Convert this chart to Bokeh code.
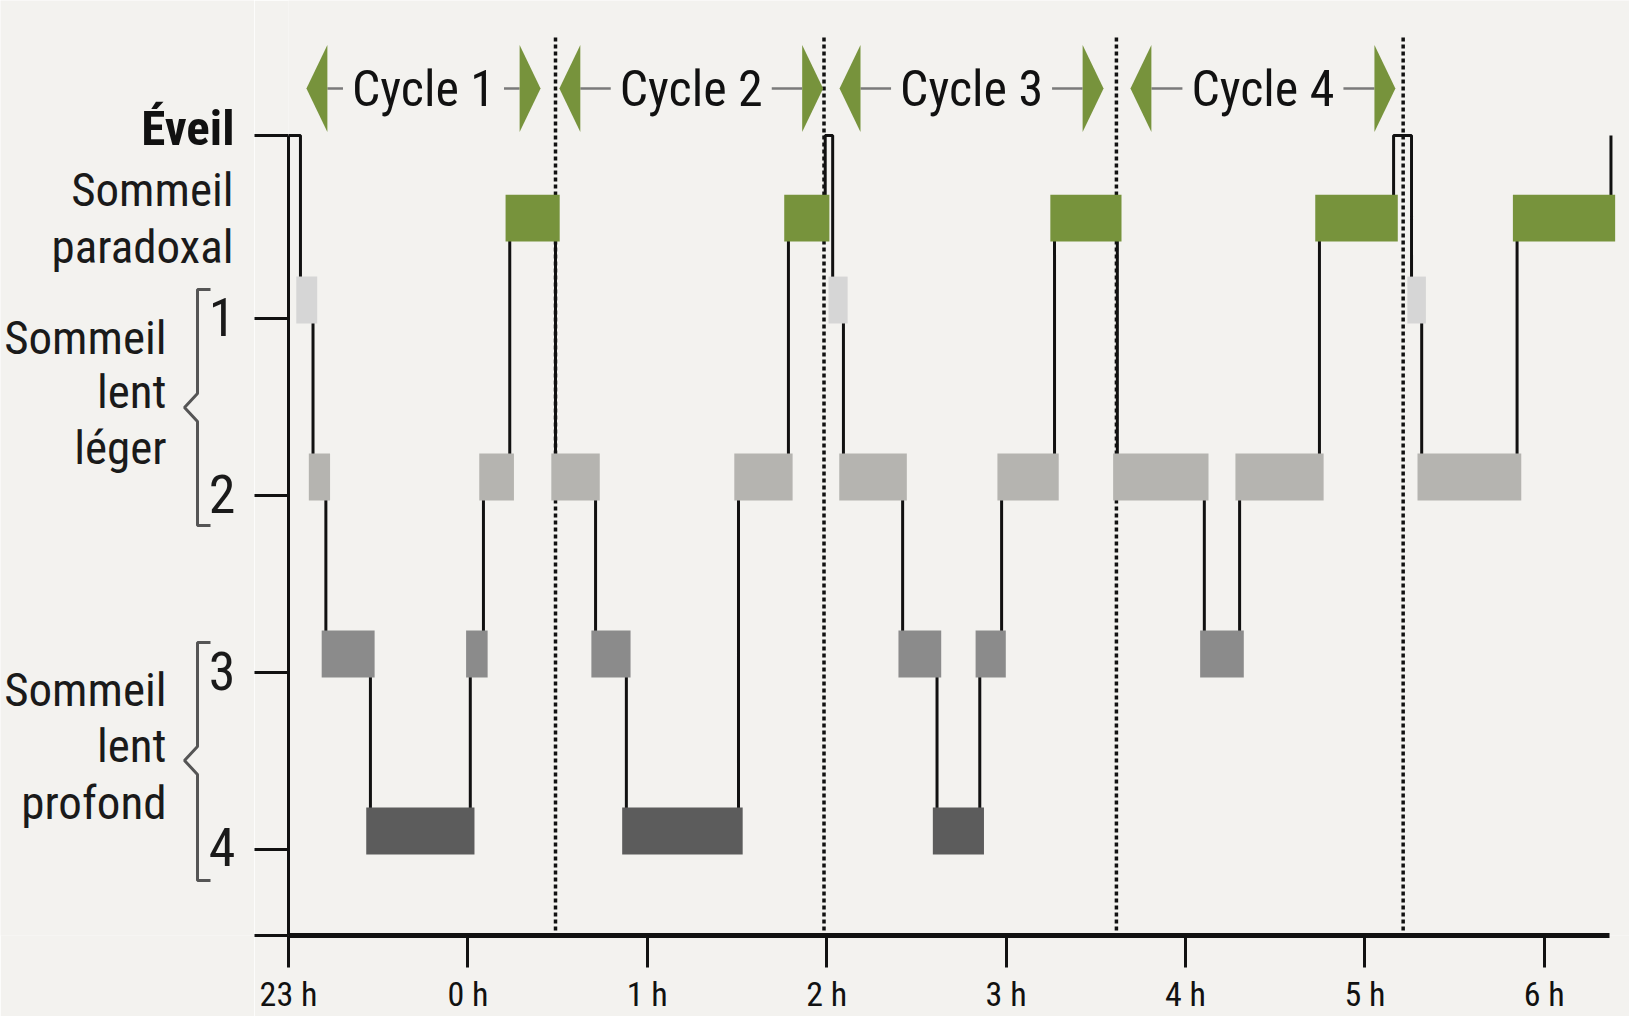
from bokeh.plotting import figure
from bokeh.layouts import row
from bokeh.models import Range1d, FixedTicker, Label
from bokeh.embed import file_html
from bokeh.resources import INLINE
from bokeh.core.properties import value

# ---------------- data ----------------
# hypnogram: stage entered at each time (minutes after 23 h)
stages = ["Éveil", "1", "2", "3", "4", "3", "2", "P", "2", "3", "4", "2", "P",
          "Éveil", "1", "2", "3", "4", "3", "2", "P", "2", "3", "2", "P",
          "Éveil", "1", "2", "P"]
starts = [0.0, 4.0, 8.2, 12.5, 27.4, 60.8, 65.2, 74.0, 89.3, 102.7, 113.0, 150.5, 167.2,
          179.5, 182.0, 185.6, 205.4, 216.9, 231.2, 238.5, 256.2, 277.2, 306.3, 318.1, 344.8,
          369.6, 375.6, 379.0, 410.9]
end_time = 442.3

cycle_names = ["Cycle 1", "Cycle 2", "Cycle 3", "Cycle 4"]
cycle_ends = [89.3, 179.1, 276.9, 372.8]
arrow_from = [6.0, 90.6, 184.3, 281.6]
arrow_to = [84.3, 178.8, 272.6, 370.2]

hour_ticks = [0, 60, 120, 180, 240, 300, 360, 420]
hour_labels = ["23 h", "0 h", "1 h", "2 h", "3 h", "4 h", "5 h", "6 h"]

stage_ticks = [1, 2, 3, 4]
stage_tick_labels = ["1", "2", "3", "4"]

# ---------------- style / layout ----------------
BG = "#f3f2ef"
FONT = "Roboto Condensed, DejaVu Sans Condensed, Liberation Sans Narrow, Roboto, sans-serif"
LEVEL = {"Éveil": -0.034, "P": 0.537, "1": 1.0, "2": 2.0, "3": 3.0, "4": 4.0}
COLOR = {"P": "#77933c", "1": "#d6d6d6", "2": "#b5b4b0", "3": "#8b8b8b", "4": "#5c5c5c"}
Y_BOTTOM = 4.486
Y_TOP = -0.797
BAR_UP, BAR_DOWN = 0.237, 0.028
PAD = 1.4
LEFT_W = 254
BOTTOM_B = 81


def ty(px):
    return 1 + (px - 318) / 177


fig = figure(width=1629 - LEFT_W, height=1016, x_range=Range1d(0, 448.5),
             y_range=Range1d(Y_BOTTOM, Y_TOP),
             output_backend="svg", toolbar_location=None,
             min_border_left=34, min_border_right=0, min_border_top=0, min_border_bottom=BOTTOM_B,
             background_fill_color=BG, border_fill_color=BG, outline_line_color=None)
fig.grid.visible = False

# x axis
xa = fig.xaxis[0]
xa.ticker = FixedTicker(ticks=hour_ticks)
xa.major_label_overrides = {t: l for t, l in zip(hour_ticks, hour_labels)}
xa.bounds = (0, 441.8)
xa.axis_line_width = 5
xa.axis_line_color = "#111111"
xa.major_tick_out = 32
xa.major_tick_in = 0
xa.major_tick_line_width = 3
xa.major_tick_line_color = "#111111"
xa.minor_tick_line_color = None
xa.major_label_standoff = 6
xa.major_label_text_font = FONT
xa.major_label_text_font_size = "34px"
xa.major_label_text_color = "#111111"

# y axis (line + ticks; its labels are set in the left panel)
ya = fig.yaxis[0]
yticks = [LEVEL["Éveil"]] + stage_ticks + [Y_BOTTOM]
ya.ticker = FixedTicker(ticks=yticks)
ya.major_label_overrides = {t: "" for t in yticks}
ya.major_label_text_color = None
ya.major_label_standoff = 0
ya.bounds = (LEVEL["Éveil"], Y_BOTTOM)
ya.axis_line_width = 3
ya.axis_line_color = "#111111"
ya.major_tick_out = 34
ya.major_tick_in = 0
ya.major_tick_line_width = 3
ya.major_tick_line_color = "#111111"
ya.minor_tick_line_color = None

# cycle dotted separators
fig.segment(x0=cycle_ends, x1=cycle_ends, y0=[ty(37)] * 4, y1=[ty(930)] * 4,
            line_color="#111111", line_width=3.5, line_dash="4 3")


# hypnogram line (step)
def line_y(s):
    return LEVEL[s] if s == "Éveil" else LEVEL[s] - (BAR_UP - BAR_DOWN) / 2


ends = starts[1:] + [end_time]
lx, ly = [], []
for s, t0, t1 in zip(stages, starts, ends):
    lx += [t0, t1]
    ly += [line_y(s), line_y(s)]
lx.append(end_time)
ly.append(LEVEL["Éveil"])
fig.line(lx, ly, line_color="#111111", line_width=3)

# stage bars
bl, br, bt, bb, bc = [], [], [], [], []
for s, t0, t1 in zip(stages, starts, ends):
    if s == "Éveil":
        continue
    bl.append(t0 - PAD)
    br.append(t1 + PAD)
    bt.append(LEVEL[s] - BAR_UP)
    bb.append(LEVEL[s] + BAR_DOWN)
    bc.append(COLOR[s])
fig.quad(left=bl, right=br, top=bt, bottom=bb, fill_color=bc, line_color=None)

# cycle arrows
AY = ty(88)
AH = 0.246
AW = 7.0
fig.segment(x0=[a + AW for a in arrow_from], x1=[b - AW for b in arrow_to],
            y0=[AY] * 4, y1=[AY] * 4, line_color="#7a7a7a", line_width=2.5)
txs, tys = [], []
for a, b in zip(arrow_from, arrow_to):
    txs.append([a, a + AW, a + AW]); tys.append([AY, AY - AH, AY + AH])
    txs.append([b, b - AW, b - AW]); tys.append([AY, AY - AH, AY + AH])
fig.patches(txs, tys, fill_color="#77933c", line_color=None)
for name, a, b in zip(cycle_names, arrow_from, arrow_to):
    fig.add_layout(Label(x=(a + b) / 2, y=AY, text=name, text_align="center", text_baseline="middle",
                         text_font=FONT, text_font_size="50px", text_color="#111111",
                         background_fill_color=BG, padding=9))

# ---------------- left panel: stage names and brackets ----------------
left = figure(width=LEFT_W, height=1016, x_range=Range1d(0, LEFT_W), y_range=Range1d(Y_BOTTOM, Y_TOP),
              x_axis_location=None, y_axis_location=None,
              output_backend="svg", toolbar_location=None,
              min_border_left=0, min_border_right=0, min_border_top=0, min_border_bottom=BOTTOM_B,
              background_fill_color=BG, border_fill_color=BG, outline_line_color=None)
left.grid.visible = False

left.text(x=[234], y=[ty(128)], text=["Éveil"], text_align="right", text_baseline="middle",
          text_font=value(FONT), text_font_size="49px", text_font_style="bold", text_color="#111111")
left.text(x=[235] * len(stage_ticks), y=[t - 2 / 177 for t in stage_ticks], text=stage_tick_labels,
          text_align="right", text_baseline="middle",
          text_font=value(FONT), text_font_size="54px", text_color="#1a1a1a")

left_lines = [
    ("Sommeil", 233, 189), ("paradoxal", 233, 246),
    ("Sommeil", 166, 337), ("lent", 166, 391), ("léger", 166, 447),
    ("Sommeil", 166, 689), ("lent", 166, 745), ("profond", 166, 802),
]
left.text(x=[l[1] for l in left_lines], y=[ty(l[2]) for l in left_lines], text=[l[0] for l in left_lines],
          text_align="right", text_baseline="middle",
          text_font=value(FONT), text_font_size="47px", text_color="#1a1a1a")

bxs, bys = [], []
for top, bottom, mid in [(289, 525, 407), (642, 880, 760)]:
    bxs.append([210, 197, 197, 184, 197, 197, 210])
    bys.append([ty(top), ty(top), ty(mid - 14), ty(mid), ty(mid + 14), ty(bottom), ty(bottom)])
left.multi_line(bxs, bys, line_color="#555555", line_width=3)

p = row(left, fig, spacing=0)
open("out.html", "w").write(file_html(p, INLINE))
